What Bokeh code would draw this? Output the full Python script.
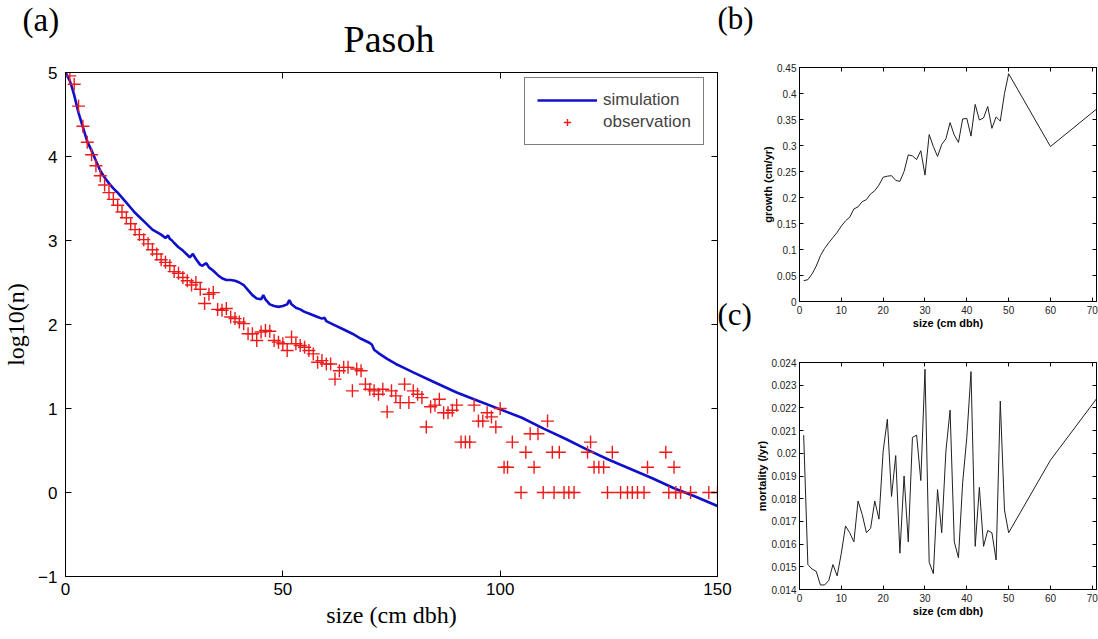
from bokeh.plotting import figure
from bokeh.layouts import row, column
from bokeh.models import Range1d, LinearAxis, FixedTicker, Label, Legend, LegendItem
from bokeh.embed import file_html
from bokeh.resources import INLINE

# ---------------- data ----------------
# (a) Pasoh: simulated size distribution (log10 of count)
sim_size = [0, 0.5, 1, 1.5, 2, 3, 4, 5, 6, 7, 8, 9, 10, 11, 12, 13, 14, 15, 16, 17,
            18, 19, 20, 21, 22, 23, 23.6, 24, 24.5, 25, 26, 27, 28, 28.6, 29.3, 30,
            31, 31.5, 32.4, 33, 34, 35, 36, 37, 38, 39, 40, 41, 42, 43, 44, 45, 45.5,
            46, 47, 48, 49, 50, 51, 51.5, 52, 53, 54, 55, 56, 57, 58, 59, 59.6, 60,
            62, 64, 66, 68, 70, 70.5, 71, 72, 74, 76, 78, 80, 85, 90, 95, 100, 105,
            110, 115, 120, 125, 130, 135, 140, 145, 150]
sim_log_n = [5.00, 4.95, 4.90, 4.82, 4.73, 4.52, 4.35, 4.18, 4.07, 3.95, 3.83, 3.75,
             3.68, 3.62, 3.57, 3.51, 3.45, 3.39, 3.33, 3.28, 3.23, 3.18, 3.13, 3.10,
             3.07, 3.03, 3.06, 3.02, 3.00, 2.97, 2.92, 2.88, 2.83, 2.80, 2.84, 2.78,
             2.71, 2.70, 2.73, 2.68, 2.64, 2.59, 2.55, 2.53, 2.53, 2.52, 2.50, 2.47,
             2.41, 2.35, 2.31, 2.30, 2.35, 2.30, 2.24, 2.22, 2.21, 2.22, 2.24, 2.29,
             2.24, 2.20, 2.18, 2.15, 2.13, 2.11, 2.09, 2.07, 2.08, 2.04, 1.99, 1.94,
             1.89, 1.83, 1.78, 1.76, 1.70, 1.66, 1.59, 1.53, 1.48, 1.43, 1.31, 1.19,
             1.09, 0.99, 0.89, 0.76, 0.64, 0.51, 0.39, 0.28, 0.17, 0.05, -0.05, -0.16]

# (a) Pasoh: observed size distribution (log10 of count)
obs_size = [1, 2, 3, 4, 5, 6, 7, 8, 9, 10, 11, 12, 13, 14, 15, 16, 17, 18, 19, 20,
            21, 22, 23, 24, 25, 26, 27, 28, 29, 30, 31, 32, 33, 34, 35, 36, 37, 38,
            39, 40, 41, 42, 43, 44, 45, 46, 47, 48, 49, 50, 51, 52, 53, 54, 55, 56,
            57, 58, 59, 60, 61, 62, 63, 64, 65, 66, 67, 68, 69, 70, 71, 72, 73, 74,
            75, 76, 77, 78, 79, 80, 81, 82, 83, 84, 85, 86, 87, 88, 89, 90, 91, 92,
            93, 94, 95, 96, 97, 98, 99, 100,
            100.9, 101.7, 102.8, 104.8, 105.9, 106.9, 107.8, 108.7, 109.9, 110.9,
            112.0, 112.4, 113.6, 114.7, 115.8, 117.0, 120.1, 120.8, 121.6, 122.7,
            123.8, 124.7, 125.8, 127.7, 129.3, 130.4, 131.6, 133.1, 133.9, 138.1,
            138.8, 140.0, 140.4, 141.5, 143.8, 148.0, 150.0]
obs_log_n = [4.96, 4.86, 4.60, 4.36, 4.17, 4.02, 3.89, 3.77, 3.66, 3.57, 3.49, 3.42,
             3.34, 3.27, 3.20, 3.13, 3.07, 3.01, 2.96, 2.89, 2.84, 2.77, 2.74, 2.70,
             2.63, 2.61, 2.56, 2.52, 2.47, 2.50, 2.42, 2.25, 2.36, 2.38, 2.18, 2.17,
             2.19, 2.09, 2.07, 2.03, 2.01, 1.89, 1.89, 1.81, 1.91, 1.93, 1.92, 1.81,
             1.79, 1.77, 1.69, 1.85, 1.77, 1.75, 1.73, 1.69, 1.65, 1.55, 1.57, 1.53,
             1.53, 1.35, 1.45, 1.49, 1.49, 1.21, 1.47, 1.45, 1.29, 1.23, 1.21, 1.17,
             1.23, 0.96, 1.21, 1.15, 1.07, 1.29, 1.07, 1.21, 1.17, 1.13, 0.78, 1.02,
             1.04, 1.11, 0.95, 0.95, 0.98, 1.04, 0.60, 0.60, 0.60, 1.04, 0.85, 0.85,
             0.95, 0.90, 0.78, 1.00,
             0.30, 0.30, 0.60, 0.00, 0.48, 0.70, 0.30, 0.70, 0.00, 0.85,
             0.48, 0.00, 0.48, 0.00, 0.00, 0.00, 0.48, 0.60, 0.30, 0.30,
             0.30, 0.00, 0.48, 0.00, 0.00, 0.00, 0.00, 0.00, 0.30, 0.48,
             0.00, 0.30, 0.00, 0.00, 0.00, 0.00, 0.00]

# (b) growth and (c) mortality versus size
size_bc = list(range(1, 51)) + [60, 71]
growth = [0.040, 0.042, 0.053, 0.068, 0.088, 0.102, 0.113, 0.123, 0.133, 0.145,
          0.155, 0.162, 0.178, 0.182, 0.192, 0.196, 0.207, 0.213, 0.224, 0.239,
          0.241, 0.242, 0.233, 0.231, 0.250, 0.282, 0.280, 0.273, 0.290, 0.243,
          0.321, 0.298, 0.279, 0.302, 0.313, 0.344, 0.320, 0.306, 0.351, 0.352,
          0.318, 0.379, 0.349, 0.353, 0.375, 0.333, 0.355, 0.347, 0.400, 0.438,
          0.298, 0.370]
mortality = [0.0208, 0.0151, 0.0149, 0.0148, 0.0142, 0.0142, 0.0144, 0.0151, 0.0146,
             0.0156, 0.0168, 0.0165, 0.0161, 0.0179, 0.0173, 0.0165, 0.0167, 0.0179,
             0.0171, 0.0201, 0.0215, 0.0181, 0.0199, 0.0156, 0.0190, 0.0161, 0.0207,
             0.0208, 0.0188, 0.0237, 0.0152, 0.0147, 0.0184, 0.0165, 0.0201, 0.0219,
             0.0161, 0.0154, 0.0187, 0.0207, 0.0236, 0.0159, 0.0185, 0.0159, 0.0166,
             0.0165, 0.0153, 0.0223, 0.0175, 0.0165, 0.0197, 0.0224]

# ticks and tick labels
main_xticks = [0, 50, 100, 150]
main_yticks = [-1, 0, 1, 2, 3, 4, 5]
bc_xticks = [0, 10, 20, 30, 40, 50, 60, 70]
growth_ticks = [0, 0.05, 0.1, 0.15, 0.2, 0.25, 0.3, 0.35, 0.4, 0.45]
growth_tick_labels = ["0", "0.05", "0.1", "0.15", "0.2", "0.25", "0.3", "0.35", "0.4", "0.45"]
mort_ticks = [0.014, 0.015, 0.016, 0.017, 0.018, 0.019, 0.020, 0.021, 0.022, 0.023, 0.024]
mort_tick_labels = ["0.014", "0.015", "0.016", "0.017", "0.018", "0.019", "0.02",
                    "0.021", "0.022", "0.023", "0.024"]

SERIF = "Liberation Serif"
SANS = "Liberation Sans"
BLUE = "#1010CC"
RED = "#EE1A1A"

W_MAIN = 753
W_SIDE = 1098 - W_MAIN
HEAD_A = 60


def box_ticks(p, xt, yt, tick_in):
    """MATLAB-like box: inward ticks on all four sides. Returns (bottom, left) axes."""
    xb, yl = p.below[0], p.left[0]
    for ax in (xb, yl):
        ax.major_tick_in = tick_in
        ax.major_tick_out = 0
        ax.minor_tick_line_color = None
        ax.axis_line_color = "black"
    xb.ticker = FixedTicker(ticks=xt)
    yl.ticker = FixedTicker(ticks=yt)
    top = LinearAxis(ticker=FixedTicker(ticks=xt), major_tick_in=tick_in, major_tick_out=0,
                     minor_tick_line_color=None, major_label_text_color=None,
                     major_label_text_font_size="1px", major_label_standoff=0)
    right = LinearAxis(ticker=FixedTicker(ticks=yt), major_tick_in=tick_in, major_tick_out=0,
                       minor_tick_line_color=None, major_label_text_color=None,
                       major_label_text_font_size="1px", major_label_standoff=0)
    p.add_layout(top, "above")
    p.add_layout(right, "right")
    p.grid.visible = False
    p.outline_line_color = "black"
    return xb, yl


def side_label(fig, x, y, text, size, place):
    fig.add_layout(Label(x=x, y=y, x_units="screen", y_units="screen", text=text,
                         text_font=SERIF, text_font_size=size, text_baseline="top",
                         text_align="left", text_color="black"), place)


# ---------------- header strip above (a): holds "(a)", "Pasoh" and "(b)" ----------------
hdr = figure(width=W_MAIN, height=HEAD_A, x_range=Range1d(64, 717), y_range=Range1d(HEAD_A, 0),
             x_axis_type=None, y_axis_type=None, output_backend="svg", toolbar_location=None,
             min_border_left=64, min_border_right=W_MAIN - 717, min_border_top=0,
             min_border_bottom=0)
hdr.grid.visible = False
hdr.outline_line_color = None
hdr.add_layout(Label(x=388, y=17, text="Pasoh", text_font=SERIF, text_font_size="38px",
                     text_baseline="top", text_align="center", text_color="black"))
side_label(hdr, -6, HEAD_A - 1, "(a)", "33px", "left")
side_label(hdr, 0, HEAD_A, "(b)", "31px", "right")

# ---------------- (a) main panel ----------------
p = figure(width=W_MAIN, height=639 - HEAD_A, x_range=Range1d(0, 150), y_range=Range1d(-1, 5),
           output_backend="svg", toolbar_location=None,
           min_border_left=64, min_border_right=W_MAIN - 717, min_border_top=72 - HEAD_A,
           min_border_bottom=63)
xa, ya = box_ticks(p, main_xticks, main_yticks, 6)
for ax in (xa, ya):
    ax.major_label_text_font = SANS
    ax.major_label_text_font_size = "17px"
    ax.major_label_text_color = "black"
    ax.axis_label_text_font = SERIF
    ax.axis_label_text_font_size = "24px"
    ax.axis_label_text_font_style = "normal"
    ax.axis_label_text_color = "black"
xa.axis_label = "size (cm dbh)"
ya.axis_label = "log10(n)"
xa.major_label_standoff = 6
ya.major_label_standoff = 8
xa.axis_label_standoff = 4
ya.axis_label_standoff = 6

r_sim = p.line(sim_size, sim_log_n, line_color=BLUE, line_width=2.6)
r_obs = p.scatter(obs_size, obs_log_n, marker="cross", size=13, line_color=RED, line_width=1.4)

legend = Legend(items=[LegendItem(label="simulation", renderers=[r_sim]),
                       LegendItem(label="observation", renderers=[r_obs])],
                location=(459, 431), border_line_color="black", border_line_width=1,
                padding=12, spacing=2, margin=0, glyph_width=60, glyph_height=18,
                label_height=18, label_standoff=6, label_text_font=SANS,
                label_text_font_size="17px", background_fill_alpha=1)
p.add_layout(legend)
# "(c)" sits left of panel (c); it lives in the right margin of panel (a)
side_label(p, 0, 280, "(c)", "31px", "right")


def small_panel(height, top, bottom, y_range, yticks, ylabels, yvals, ylabel):
    q = figure(width=W_SIDE, height=height, x_range=Range1d(0, 71), y_range=y_range,
               output_backend="svg", toolbar_location=None,
               min_border_left=798 - W_MAIN, min_border_right=2, min_border_top=top,
               min_border_bottom=bottom)
    xb, yl = box_ticks(q, bc_xticks, yticks, 4)
    yl.major_label_overrides = {t: s for t, s in zip(yticks, ylabels)}
    for ax in (xb, yl):
        ax.major_label_text_font = SANS
        ax.major_label_text_font_size = "10px"
        ax.major_label_text_color = "#222222"
        ax.axis_label_text_font = SANS
        ax.axis_label_text_font_size = "11px"
        ax.axis_label_text_font_style = "bold"
        ax.axis_label_text_color = "black"
        ax.major_label_standoff = 3
        ax.axis_label_standoff = 0
    xb.major_label_standoff = 4
    xb.axis_label = "size (cm dbh)"
    yl.axis_label = ylabel
    q.line(size_bc, yvals, line_color="#202020", line_width=1)
    return q


pb = small_panel(334, 67, 33, Range1d(0, 0.45), growth_ticks, growth_tick_labels,
                 growth, "growth (cm/yr)")
pc = small_panel(305, 28, 50, Range1d(0.014, 0.024), mort_ticks, mort_tick_labels,
                 mortality, "mortality (/yr)")

layout = row(column(hdr, p, spacing=0), column(pb, pc, spacing=0), spacing=0)
open("out.html", "w").write(file_html(layout, INLINE))
